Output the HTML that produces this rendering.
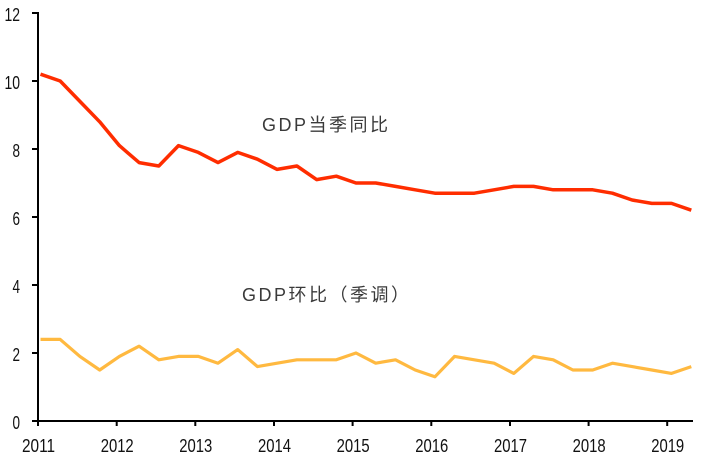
<!DOCTYPE html>
<html>
<head>
<meta charset="utf-8">
<style>
  html, body { margin: 0; padding: 0; background: #ffffff; }
  body { width: 719px; height: 467px; overflow: hidden; }
  svg { display: block; }
  .tick { font-family: "Liberation Sans", sans-serif; font-size: 18px; fill: #111; }
  .lbl { font-family: "Liberation Sans", "WenQuanYi Zen Hei", "Noto Sans CJK SC", sans-serif; font-size: 18px; fill: #3a3a3a; letter-spacing: 2.5px; }
</style>
</head>
<body>
<svg width="719" height="467" viewBox="0 0 719 467" xmlns="http://www.w3.org/2000/svg">
  <rect width="719" height="467" fill="#ffffff"/>

  <!-- Red series: GDP YoY -->
  <polyline fill="none" stroke="#FF2D00" stroke-width="3.5" stroke-linejoin="round" stroke-linecap="butt"
    points="40.5,74.2 60.2,81 79.9,101.4 99.7,121.8 119.4,145.6 139.1,162.6 158.8,166 178.5,145.6 198.3,152.4 218.0,162.6 237.7,152.4 257.4,159.2 277.1,169.4 296.9,166 316.6,179.6 336.3,176.2 356.0,183 375.7,183 395.5,186.4 415.2,189.8 434.9,193.2 454.6,193.2 474.3,193.2 494.1,189.8 513.8,186.4 533.5,186.4 553.2,189.8 572.9,189.8 592.7,189.8 612.4,193.2 632.1,200 651.8,203.4 671.5,203.4 691.3,210.2"/>

  <!-- Yellow series: GDP QoQ -->
  <polyline fill="none" stroke="#FFB940" stroke-width="3.2" stroke-linejoin="round" stroke-linecap="butt"
    points="40.5,339.4 60.2,339.4 79.9,356.4 99.7,370 119.4,356.4 139.1,346.2 158.8,359.8 178.5,356.4 198.3,356.4 218.0,363.2 237.7,349.6 257.4,366.6 277.1,363.2 296.9,359.8 316.6,359.8 336.3,359.8 356.0,353 375.7,363.2 395.5,359.8 415.2,370 434.9,376.8 454.6,356.4 474.3,359.8 494.1,363.2 513.8,373.4 533.5,356.4 553.2,359.8 572.9,370 592.7,370 612.4,363.2 632.1,366.6 651.8,370 671.5,373.4 691.3,366.6"/>

  <!-- Axes -->
  <line x1="38" y1="12" x2="38" y2="422" stroke="#000" stroke-width="2"/>
  <line x1="37" y1="421" x2="693" y2="421" stroke="#000" stroke-width="2"/>

  <!-- Y ticks -->
  <g stroke="#000" stroke-width="2">
    <line x1="32" y1="13" x2="38" y2="13"/>
    <line x1="32" y1="81" x2="38" y2="81"/>
    <line x1="32" y1="149" x2="38" y2="149"/>
    <line x1="32" y1="217" x2="38" y2="217"/>
    <line x1="32" y1="285" x2="38" y2="285"/>
    <line x1="32" y1="353" x2="38" y2="353"/>
    <line x1="32" y1="421" x2="38" y2="421"/>
  </g>
  <g class="tick" text-anchor="end">
    <text x="20" y="21" textLength="15.5" lengthAdjust="spacingAndGlyphs">12</text>
    <text x="20" y="89" textLength="15.5" lengthAdjust="spacingAndGlyphs">10</text>
    <text x="20" y="157" textLength="7.5" lengthAdjust="spacingAndGlyphs">8</text>
    <text x="20" y="225" textLength="7.5" lengthAdjust="spacingAndGlyphs">6</text>
    <text x="20" y="293" textLength="7.5" lengthAdjust="spacingAndGlyphs">4</text>
    <text x="20" y="361" textLength="7.5" lengthAdjust="spacingAndGlyphs">2</text>
    <text x="20" y="429" textLength="7.5" lengthAdjust="spacingAndGlyphs">0</text>
  </g>

  <!-- X ticks -->
  <g stroke="#000" stroke-width="2">
    <line x1="38" y1="421" x2="38" y2="426"/>
    <line x1="116.7" y1="421" x2="116.7" y2="426"/>
    <line x1="195.3" y1="421" x2="195.3" y2="426"/>
    <line x1="274" y1="421" x2="274" y2="426"/>
    <line x1="352.6" y1="421" x2="352.6" y2="426"/>
    <line x1="431.3" y1="421" x2="431.3" y2="426"/>
    <line x1="510" y1="421" x2="510" y2="426"/>
    <line x1="588.6" y1="421" x2="588.6" y2="426"/>
    <line x1="667.2" y1="421" x2="667.2" y2="426"/>
  </g>
  <g class="tick">
    <text x="22" y="452" textLength="33" lengthAdjust="spacingAndGlyphs">2011</text>
    <text x="100.7" y="452" textLength="33" lengthAdjust="spacingAndGlyphs">2012</text>
    <text x="179.3" y="452" textLength="33" lengthAdjust="spacingAndGlyphs">2013</text>
    <text x="258" y="452" textLength="33" lengthAdjust="spacingAndGlyphs">2014</text>
    <text x="336.6" y="452" textLength="33" lengthAdjust="spacingAndGlyphs">2015</text>
    <text x="415.3" y="452" textLength="33" lengthAdjust="spacingAndGlyphs">2016</text>
    <text x="494" y="452" textLength="33" lengthAdjust="spacingAndGlyphs">2017</text>
    <text x="572.6" y="452" textLength="33" lengthAdjust="spacingAndGlyphs">2018</text>
    <text x="651.2" y="452" textLength="33" lengthAdjust="spacingAndGlyphs">2019</text>
  </g>

  <!-- Series labels -->
  <text class="lbl" x="262" y="131">GDP当季同比</text>
  <text class="lbl" x="242" y="301">GDP环比（季调）</text>
</svg>
</body>
</html>
